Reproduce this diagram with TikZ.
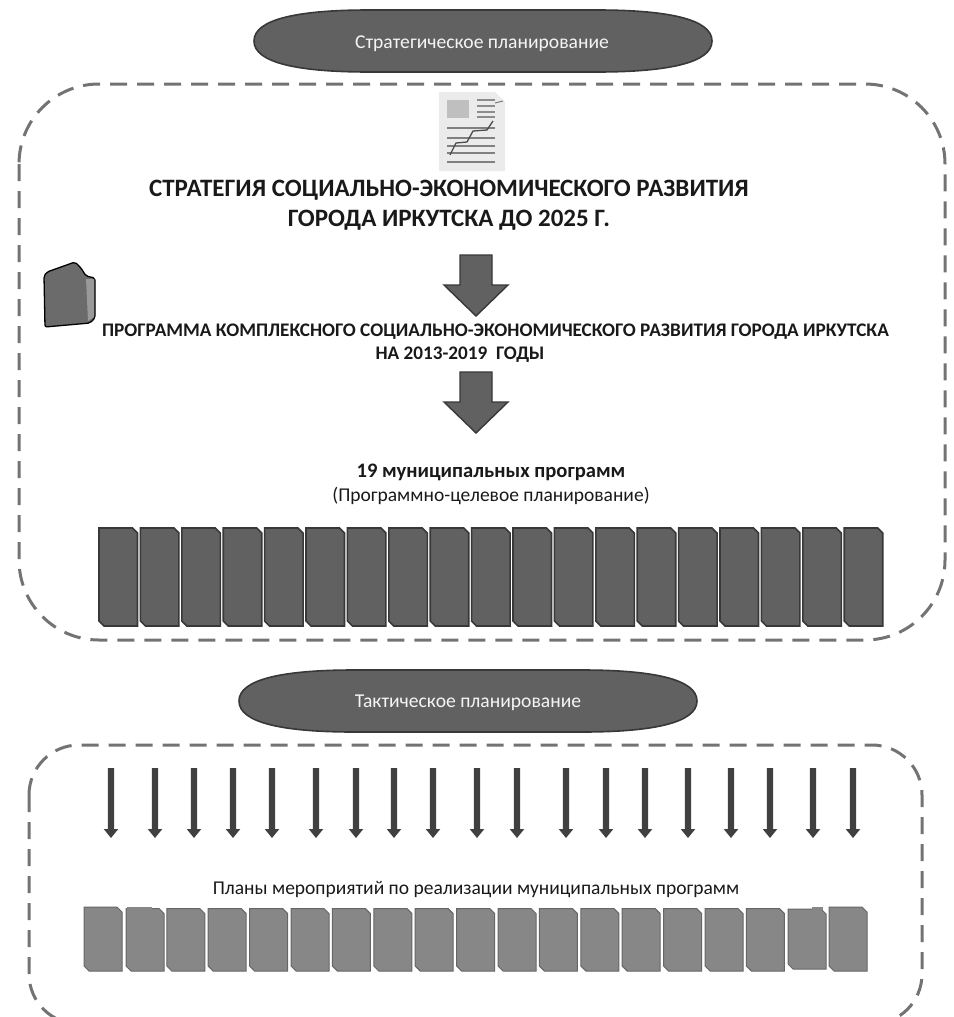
\documentclass[tikz,border=0pt]{standalone}
\usepackage{fontspec}
\setmainfont{Carlito}
\usetikzlibrary{shapes.geometric,calc}
\definecolor{darkfill}{gray}{0.38}
\definecolor{darkedge}{gray}{0.22}
\definecolor{lightfill}{gray}{0.53}
\definecolor{lightedge}{gray}{0.40}
\definecolor{dashgray}{gray}{0.45}
\definecolor{shaftgray}{gray}{0.25}
\tikzset{
  x=1pt,y=-1pt,
  pilltxt/.style={text=black!4,font=\fontsize{19.6}{22}\selectfont,inner sep=0pt},
  pillshape/.style={draw=darkedge,fill=darkfill,line width=1.6pt},
  region/.style={draw=dashgray,line width=3pt,dash pattern=on 17pt off 10pt,rounded corners=80pt},
  headtxt/.style={font=\bfseries\fontsize{25}{30}\selectfont,align=center,text=black!90,inner sep=0pt},
  subtxt/.style={font=\bfseries\fontsize{19.2}{23.5}\selectfont,align=center,text=black!90,inner sep=0pt},
  plaintxt/.style={font=\fontsize{19.5}{24}\selectfont,align=center,text=black!90,inner sep=0pt},
  bigarrow/.style={draw=darkedge,fill=darkfill,line width=1.4pt,line join=miter},
  thinarrow/.style={draw=none,fill=shaftgray},
  darkbox/.style={draw=darkedge,fill=darkfill,line width=1.6pt},
  lightbox/.style={draw=lightedge,fill=lightfill,line width=1pt},
}
\newcommand{\bigarr}[2]{% x, top y
  \draw[bigarrow] (#1-16,#2) -- (#1+16,#2) -- (#1+16,#2+30) -- (#1+32,#2+30) -- (#1,#2+61) -- (#1-32,#2+30) -- (#1-16,#2+30) -- cycle;}
\newcommand{\thinarr}[1]{% x
  \fill[thinarrow] (#1-3.2,768) -- (#1+3.2,768) -- (#1+3.2,829) -- (#1+7.3,829) -- (#1,838) -- (#1-7.3,829) -- (#1-3.2,829) -- cycle;}
\newcommand{\cardbox}[5]{% style, x, top, width, bottom
  \draw[#1] (#2,#3) -- (#2+#4-5,#3) -- (#2+#4,#3+5) -- (#2+#4,#5) -- (#2+5,#5) -- (#2,#5-5) -- cycle;}
\newcommand{\pillpath}[4]{% left, right, top, bottom
  \draw[pillshape] (#1,#3/2+#4/2) .. controls (#1,#3+9) and (#1+45,#3) .. (#1+115,#3) -- (#2-115,#3) .. controls (#2-45,#3) and (#2,#3+9) .. (#2,#3/2+#4/2) .. controls (#2,#4-9) and (#2-45,#4) .. (#2-115,#4) -- (#1+115,#4) .. controls (#1+45,#4) and (#1,#4-9) .. (#1,#3/2+#4/2) -- cycle;}
\begin{document}
\begin{tikzpicture}
\useasboundingbox (0,0) rectangle (953,1017);
\clip (0,0) rectangle (953,1017);
% regions
\draw[region] (19,84) rectangle (945,640);
\draw[region,rounded corners=50pt] (29,745) rectangle (922,1024);
% pills
\pillpath{254}{712}{10}{72}
\node[pilltxt] (p1) at (482,44) {Стратегическое планирование};
\pillpath{239}{697}{670}{732}
\node[pilltxt] (p2) at (468,703) {Тактическое планирование};
% document icon
\fill[black!8] (439,92) -- (495,92) -- (505,102) -- (505,171) -- (439,171) -- cycle;
\fill[black!25] (447,100) rectangle (469,118);
\foreach \yy in {100,106,112,117} \draw[black!45,line width=1.2pt] (477,\yy) -- (495,\yy);
\foreach \yy in {128,138,146,153,162} \draw[black!50,line width=1.2pt] (447,\yy) -- (495,\yy);
\draw[black!70,line width=1.3pt] (450,155) -- (456,143) -- (467,142) -- (473,131) -- (487,130) -- (493,121);
\draw[black!55,line width=.9pt] (495,103) -- (503,101);
% folder icon
\draw[black,fill=black!58,line width=1.3pt,rounded corners=2pt] (44,276) -- (47,272) -- (75,262) -- (81,268) -- (86,276) -- (95,278) -- (95,318) -- (90,323) -- (45,327) -- cycle;
\fill[black!40] (86,279) -- (94,279) -- (94,317) -- (88,321) -- cycle;
% texts
\node[headtxt] (t1) at (449,205) {СТРАТЕГИЯ СОЦИАЛЬНО-ЭКОНОМИЧЕСКОГО РАЗВИТИЯ\\ГОРОДА ИРКУТСКА ДО 2025 Г.};
\node[subtxt] (t2) at (495.5,343) {ПРОГРАММА КОМПЛЕКСНОГО СОЦИАЛЬНО-ЭКОНОМИЧЕСКОГО РАЗВИТИЯ ГОРОДА ИРКУТСКА\\\hspace*{-71pt}НА 2013-2019\ \ ГОДЫ};
\node[plaintxt] (t3) at (491,484.5) {\textbf{\fontsize{20.6}{24}\selectfont 19 муниципальных программ}\\(Программно-целевое планирование)};
\node[plaintxt] (t4) at (476,890) {Планы мероприятий по реализации муниципальных программ};
% big arrows
\bigarr{476}{255}
\bigarr{476}{372}
% dark boxes
\foreach \i in {0,...,18} {\pgfmathsetmacro{\xx}{99+41.4*\i}\cardbox{darkbox}{\xx}{528}{38.5}{626}}
% light boxes
\foreach \i in {2,...,16} {\pgfmathsetmacro{\xx}{84+41.4*\i}\cardbox{lightbox}{\xx}{908.5}{38}{971}}
\cardbox{lightbox}{84}{907}{38}{971}
\cardbox{lightbox}{126}{908.5}{38}{971}
\fill[lightfill] (126.5,907) rectangle (152,910);
\cardbox{lightbox}{788}{909}{38}{969}
\fill[lightfill] (812,907) rectangle (823,910);
\cardbox{lightbox}{829}{907}{38}{971}
% thin arrows
\foreach \xx in {111,155,194,233,272,316,356,394,433,477,517,566,606,645,688,731,770,813,853} {\thinarr{\xx}}
\end{tikzpicture}
\end{document}
